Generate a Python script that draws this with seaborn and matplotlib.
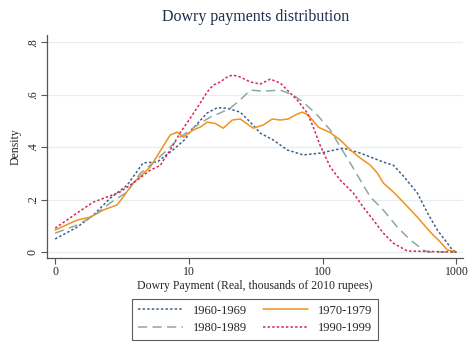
import numpy as np
import pandas as pd
import seaborn as sns
import matplotlib.pyplot as plt

# x positions are log10 units on the payment axis (0 -> "0", 1 -> "10", 2 -> "100", 3 -> "1000")
px_1960 = [55, 77, 93, 110, 127, 143, 157, 173, 185, 190, 207, 217, 227, 240, 250, 260, 273, 287,
           303, 320, 343, 360, 383, 393, 403, 417, 427, 437, 447, 452, 456]
y_1960 = [0.05, 0.095, 0.14, 0.205, 0.255, 0.34, 0.343, 0.39, 0.43, 0.46, 0.53, 0.55, 0.548, 0.533,
          0.495, 0.453, 0.427, 0.389, 0.37, 0.377, 0.396, 0.377, 0.343, 0.331, 0.29, 0.225, 0.15,
          0.084, 0.034, 0.008, 0.0]

px_1970 = [55, 77, 90, 103, 117, 123, 133, 150, 160, 170, 177, 183, 193, 200, 207, 215, 223, 232,
           240, 253, 263, 272, 280, 288, 297, 302, 308, 318, 330, 340, 350, 360, 370, 377, 383, 393,
           403, 417, 430, 440, 447, 456]
y_1970 = [0.084, 0.122, 0.133, 0.16, 0.18, 0.21, 0.263, 0.324, 0.385, 0.446, 0.457, 0.438, 0.465,
          0.476, 0.495, 0.49, 0.472, 0.503, 0.507, 0.472, 0.484, 0.507, 0.503, 0.507, 0.526, 0.533,
          0.522, 0.476, 0.455, 0.427, 0.389, 0.358, 0.331, 0.301, 0.263, 0.229, 0.19, 0.133, 0.076,
          0.038, 0.008, 0.0]

px_1980 = [55, 77, 93, 110, 127, 140, 153, 167, 180, 190, 200, 210, 220, 230, 240, 250, 263, 280,
           293, 303, 317, 330, 340, 350, 360, 370, 383, 397, 410, 423, 428, 456]
y_1980 = [0.072, 0.103, 0.137, 0.187, 0.229, 0.30, 0.34, 0.389, 0.438, 0.465, 0.491, 0.514, 0.53,
          0.548, 0.58, 0.617, 0.613, 0.617, 0.598, 0.571, 0.522, 0.465, 0.40, 0.339, 0.274, 0.21,
          0.16, 0.095, 0.046, 0.008, 0.0, 0.0]

px_1990 = [55, 77, 93, 107, 120, 133, 150, 160, 170, 180, 190, 200, 207, 213, 220, 228, 233, 240,
           250, 260, 270, 280, 287, 297, 307, 313, 320, 330, 340, 353, 363, 373, 383, 393, 407, 456]
y_1990 = [0.091, 0.149, 0.19, 0.21, 0.229, 0.263, 0.312, 0.33, 0.389, 0.455, 0.51, 0.568, 0.61,
          0.636, 0.648, 0.67, 0.674, 0.667, 0.648, 0.64, 0.659, 0.644, 0.617, 0.579, 0.53, 0.476,
          0.405, 0.324, 0.274, 0.225, 0.171, 0.122, 0.072, 0.034, 0.004, 0.0]

decades = ['1960-1969', '1970-1979', '1980-1989', '1990-1999']
x_ticks = [0, 1, 2, 3]
x_ticklabels = ['0', '10', '100', '1000']
y_ticks = [0, 0.2, 0.4, 0.6, 0.8]
y_ticklabels = ['0', '.2', '.4', '.6', '.8']

frames = []
for name, px, y in zip(decades, [px_1960, px_1970, px_1980, px_1990], [y_1960, y_1970, y_1980, y_1990]):
    frames.append(pd.DataFrame({'payment': (np.array(px) - 55) / 133.7, 'density': y, 'decade': name}))
df = pd.concat(frames, ignore_index=True)

sns.set_style('white')
plt.rcParams['font.family'] = ['Liberation Serif', 'DejaVu Serif']

fig = plt.figure(figsize=(4.76, 3.57), dpi=100)
ax = fig.add_axes([0.099, 0.277, 0.874, 0.625])

palette = {'1960-1969': '#3e5f8a', '1970-1979': '#f0921c',
           '1980-1989': '#8ea89e', '1990-1999': '#d9264f'}
dashes = {'1960-1969': (1.6, 1.4), '1970-1979': '',
          '1980-1989': (6, 3.5), '1990-1999': (1.6, 1.4)}

sns.lineplot(data=df, x='payment', y='density', hue='decade', style='decade',
             palette=palette, dashes=dashes, linewidth=1.1, sort=False,
             estimator=None, ax=ax)

ax.set_xlim(-0.06, 3.05)
ax.set_ylim(-0.023, 0.827)
ax.set_xticks(x_ticks)
ax.set_xticklabels(x_ticklabels, fontsize=8.5)
ax.set_yticks(y_ticks)
ax.set_yticklabels(y_ticklabels, fontsize=8.5, rotation=90, va='center')
ax.grid(axis='y', color='#e6efef', linewidth=0.9)
ax.set_axisbelow(True)
ax.tick_params(axis='both', direction='out', length=4, width=0.8, color='#555555',
               left=True, bottom=True, pad=2)
for side in ['top', 'right']:
    ax.spines[side].set_visible(False)
for side in ['left', 'bottom']:
    ax.spines[side].set_color('#555555')
    ax.spines[side].set_linewidth(0.9)

ax.set_xlabel('Dowry Payment (Real, thousands of 2010 rupees)', fontsize=8.5, labelpad=1)
ax.set_ylabel('Density', fontsize=8.5, labelpad=4)
ax.set_title('Dowry payments distribution', fontsize=11.5, color='#1f2d4d', pad=10)

# legend rows: 1960 | 1970 / 1980 | 1990 (matplotlib fills by column)
handles, labels = ax.get_legend_handles_labels()
order = [0, 2, 1, 3]
ax.legend([handles[i] for i in order], [labels[i] for i in order], ncol=2, loc='center',
          bbox_to_anchor=(0.536, 0.105), bbox_transform=fig.transFigure, frameon=True,
          fancybox=False, edgecolor='#333333', fontsize=9, handlelength=3.6,
          columnspacing=1.3, handletextpad=0.8, borderpad=0.45, labelspacing=0.45)
ax.get_legend().get_frame().set_linewidth(0.8)

fig.savefig('out.png', dpi=100)
